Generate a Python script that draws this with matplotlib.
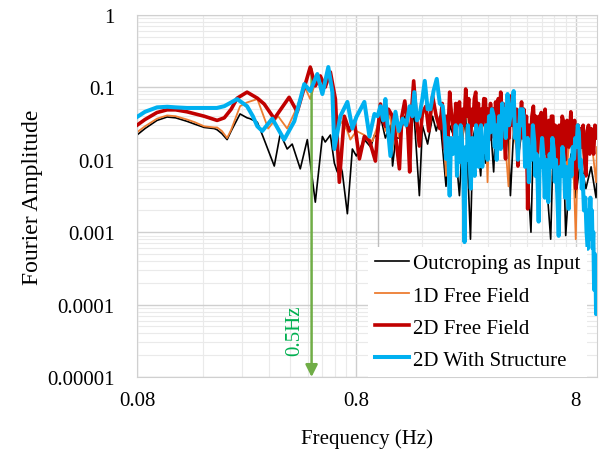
import matplotlib
matplotlib.use('Agg')
import matplotlib.pyplot as plt
from matplotlib.ticker import FixedLocator, FixedFormatter, LogLocator, NullFormatter

plt.rcParams['font.family'] = ['Liberation Serif', 'DejaVu Serif']

# (frequency Hz, Fourier amplitude)
# Outcroping as Input
black_pts = [(0.080, 0.022), (0.087, 0.027), (0.0987, 0.035), (0.1097, 0.039), (0.120, 0.038), (0.1353, 0.034),
             (0.147, 0.031), (0.162, 0.028), (0.180, 0.027), (0.1855, 0.026), (0.195, 0.023), (0.206, 0.019),
             (0.215, 0.025), (0.236, 0.043), (0.254, 0.038), (0.262, 0.037), (0.283, 0.033), (0.304, 0.019),
             (0.338, 0.0082), (0.360, 0.023), (0.387, 0.0141), (0.408, 0.0165), (0.444, 0.0075), (0.478, 0.019),
             (0.520, 0.0026), (0.560, 0.021), (0.577, 0.0176), (0.609, 0.022), (0.635, 0.009), (0.655, 0.0068),
             (0.672, 0.009), (0.690, 0.0068), (0.728, 0.0018), (0.767, 0.0141), (0.800, 0.0113), (0.870, 0.019),
             (0.930, 0.015), (0.967, 0.022),
             (1.00, 0.02), (1.03, 0.04), (1.085, 0.02), (1.144, 0.03), (1.17, 0.0082), (1.21, 0.02), (1.257, 0.02),
             (1.33, 0.04), (1.40, 0.015), (1.46, 0.05), (1.55, 0.0032), (1.60, 0.03), (1.69, 0.0165), (1.78, 0.04),
             (1.85, 0.025), (1.92, 0.04), (2.05, 0.0043), (2.13, 0.03), (2.24, 0.02), (2.36, 0.0032), (2.44, 0.02),
             (2.52, 0.04), (2.65, 0.0008), (2.72, 0.02), (2.80, 0.03), (2.95, 0.006), (3.02, 0.02), (3.10, 0.009),
             (3.27, 0.03), (3.38, 0.0068), (3.45, 0.03), (3.64, 0.04), (3.83, 0.012), (3.93, 0.03), (4.03, 0.0032),
             (4.2, 0.04), (4.36, 0.01), (4.58, 0.03), (4.83, 0.006), (5.0, 0.001), (5.13, 0.02), (5.37, 0.006),
             (5.65, 0.015), (5.96, 0.003), (6.15, 0.0008), (6.29, 0.01), (6.62, 0.004), (7.05, 0.01), (7.2, 0.0009),
             (7.6, 0.012), (8.0, 0.003), (8.4, 0.01), (8.9, 0.004), (9.4, 0.008), (9.9, 0.003), (10.0, 0.006)]

# 1D Free Field
orange_pts = [(0.080, 0.024), (0.087, 0.029), (0.0987, 0.037), (0.1097, 0.041), (0.120, 0.040), (0.1353, 0.036),
              (0.147, 0.033), (0.162, 0.029), (0.180, 0.028), (0.1855, 0.028), (0.195, 0.025), (0.206, 0.020),
              (0.215, 0.026), (0.236, 0.055), (0.254, 0.062), (0.283, 0.069), (0.317, 0.027), (0.352, 0.040),
              (0.387, 0.027), (0.43, 0.054), (0.463, 0.105), (0.493, 0.069), (0.531, 0.144), (0.560, 0.089),
              (0.596, 0.163), (0.622, 0.08), (0.655, 0.027), (0.690, 0.034), (0.728, 0.025), (0.751, 0.019),
              (0.80, 0.025), (0.87, 0.022), (0.947, 0.018),
              (1.00, 0.03), (1.03, 0.05), (1.085, 0.025), (1.144, 0.045), (1.17, 0.0141), (1.21, 0.03), (1.257, 0.02),
              (1.33, 0.055), (1.40, 0.02), (1.46, 0.08), (1.55, 0.02), (1.60, 0.04), (1.66, 0.05), (1.72, 0.025),
              (1.78, 0.06), (1.92, 0.03), (1.98, 0.04), (2.05, 0.006), (2.13, 0.07), (2.24, 0.03), (2.36, 0.05),
              (2.44, 0.02), (2.52, 0.07), (2.65, 0.02), (2.80, 0.06), (2.95, 0.02), (3.10, 0.05), (3.17, 0.0049),
              (3.22, 0.03), (3.36, 0.04), (3.45, 0.05), (3.55, 0.02), (3.64, 0.06), (3.83, 0.015), (3.95, 0.0043),
              (4.03, 0.05), (4.2, 0.02), (4.36, 0.012), (4.58, 0.04), (4.70, 0.015), (4.83, 0.004), (5.0, 0.02),
              (5.13, 0.04), (5.37, 0.01), (5.5, 0.025), (5.65, 0.02), (5.96, 0.004), (6.12, 0.02), (6.29, 0.03),
              (6.62, 0.005), (6.83, 0.02), (7.05, 0.02), (7.3, 0.008), (7.6, 0.03), (7.8, 0.01), (8.0, 0.0008),
              (8.2, 0.02), (8.4, 0.02), (8.9, 0.008), (9.15, 0.02), (9.4, 0.02), (9.65, 0.01), (9.9, 0.0049),
              (10.0, 0.015)]

# 2D Free Field
red_pts = [(0.080, 0.030), (0.087, 0.036), (0.0987, 0.045), (0.1097, 0.049), (0.120, 0.049), (0.1353, 0.046),
           (0.162, 0.040), (0.1855, 0.035), (0.200, 0.038), (0.215, 0.050), (0.229, 0.071), (0.254, 0.086),
           (0.283, 0.071), (0.304, 0.059), (0.338, 0.037), (0.370, 0.055), (0.395, 0.073), (0.43, 0.046),
           (0.463, 0.10), (0.493, 0.191), (0.52, 0.105), (0.548, 0.144), (0.577, 0.101), (0.609, 0.163),
           (0.642, 0.069), (0.669, 0.0049), (0.705, 0.040), (0.743, 0.025), (0.783, 0.034), (0.826, 0.0103),
           (0.87, 0.021), (0.92, 0.018), (0.977, 0.0096),
           (1.00, 0.024), (1.03, 0.059), (1.06, 0.035), (1.085, 0.029), (1.12, 0.05), (1.17, 0.040), (1.21, 0.02),
           (1.257, 0.0075), (1.29, 0.04), (1.33, 0.065), (1.37, 0.03), (1.40, 0.0068), (1.43, 0.05), (1.46, 0.123),
           (1.50, 0.04), (1.55, 0.0155), (1.60, 0.045), (1.66, 0.055), (1.71, 0.025), (1.78, 0.076), (1.85, 0.04),
           (1.92, 0.027), (1.97, 0.06), (2.02, 0.0141), (2.05, 0.04), (2.09, 0.02), (2.13, 0.086), (2.16, 0.05),
           (2.20, 0.03), (2.24, 0.021), (2.27, 0.06), (2.30, 0.03), (2.36, 0.063), (2.40, 0.02), (2.44, 0.05),
           (2.48, 0.03), (2.52, 0.095), (2.56, 0.04), (2.60, 0.07), (2.65, 0.019), (2.69, 0.05), (2.72, 0.03),
           (2.76, 0.07), (2.80, 0.086), (2.84, 0.03), (2.88, 0.06), (2.92, 0.015), (2.96, 0.05), (3.00, 0.03),
           (3.05, 0.07), (3.10, 0.069), (3.14, 0.02), (3.18, 0.05), (3.23, 0.019), (3.27, 0.06), (3.31, 0.03),
           (3.36, 0.05), (3.40, 0.02), (3.45, 0.063), (3.50, 0.03), (3.55, 0.07), (3.60, 0.035), (3.64, 0.086),
           (3.69, 0.03), (3.73, 0.06), (3.78, 0.02), (3.83, 0.0103), (3.88, 0.04), (3.93, 0.05), (3.98, 0.02),
           (4.03, 0.076), (4.10, 0.03), (4.16, 0.06), (4.23, 0.02), (4.30, 0.05), (4.36, 0.0082), (4.42, 0.04),
           (4.47, 0.03), (4.53, 0.063), (4.58, 0.02), (4.64, 0.05), (4.70, 0.02), (4.77, 0.04), (4.83, 0.0021),
           (4.90, 0.03), (4.98, 0.015), (5.05, 0.04), (5.13, 0.055), (5.20, 0.02), (5.25, 0.04), (5.31, 0.01),
           (5.37, 0.0141), (5.44, 0.04), (5.50, 0.02), (5.57, 0.045), (5.65, 0.027), (5.72, 0.012), (5.80, 0.05),
           (5.88, 0.02), (5.96, 0.0082), (6.04, 0.035), (6.12, 0.015), (6.20, 0.04), (6.29, 0.040), (6.37, 0.01),
           (6.45, 0.03), (6.53, 0.015), (6.62, 0.0036), (6.72, 0.03), (6.83, 0.015), (6.94, 0.04), (7.05, 0.033),
           (7.17, 0.01), (7.3, 0.035), (7.45, 0.015), (7.6, 0.046), (7.7, 0.02), (7.8, 0.015), (7.9, 0.035),
           (8.0, 0.004), (8.1, 0.025), (8.2, 0.03), (8.3, 0.012), (8.4, 0.027), (8.52, 0.015), (8.65, 0.03),
           (8.77, 0.01), (8.9, 0.006), (9.02, 0.025), (9.15, 0.03), (9.27, 0.012), (9.4, 0.027), (9.52, 0.02),
           (9.65, 0.012), (9.78, 0.03), (9.9, 0.029), (10.0, 0.02)]

# 2D With Structure
blue_pts = [(0.080, 0.039), (0.087, 0.046), (0.0987, 0.053), (0.110, 0.054), (0.120, 0.053), (0.1353, 0.052),
            (0.162, 0.052), (0.185, 0.052), (0.200, 0.055), (0.215, 0.062), (0.229, 0.069), (0.254, 0.055),
            (0.270, 0.040), (0.283, 0.029), (0.298, 0.025), (0.331, 0.037), (0.375, 0.019), (0.417, 0.034),
            (0.445, 0.07), (0.463, 0.111), (0.493, 0.089), (0.531, 0.153), (0.56, 0.081), (0.596, 0.191),
            (0.622, 0.086), (0.635, 0.0141), (0.676, 0.040), (0.728, 0.063), (0.767, 0.027), (0.80, 0.039),
            (0.87, 0.063), (0.918, 0.021), (0.967, 0.043),
            (1.00, 0.040), (1.03, 0.055), (1.06, 0.035), (1.085, 0.069), (1.11, 0.03), (1.144, 0.0113), (1.18, 0.03),
            (1.206, 0.046), (1.25, 0.025), (1.30, 0.037), (1.35, 0.03), (1.40, 0.055), (1.44, 0.04), (1.47, 0.086),
            (1.51, 0.035), (1.55, 0.040), (1.60, 0.07), (1.64, 0.123), (1.69, 0.05), (1.74, 0.050), (1.80, 0.09),
            (1.86, 0.131), (1.92, 0.06), (1.98, 0.055), (2.02, 0.03), (2.05, 0.0103), (2.09, 0.02), (2.13, 0.0032),
            (2.16, 0.02), (2.20, 0.012), (2.24, 0.0155), (2.27, 0.03), (2.30, 0.006), (2.33, 0.02), (2.36, 0.0093),
            (2.39, 0.03), (2.42, 0.02), (2.46, 0.006), (2.49, 0.00073), (2.52, 0.015), (2.55, 0.01), (2.58, 0.03),
            (2.62, 0.0141), (2.66, 0.004), (2.70, 0.02), (2.74, 0.008), (2.77, 0.006), (2.81, 0.03), (2.85, 0.025),
            (2.89, 0.008), (2.92, 0.019), (2.96, 0.03), (3.0, 0.008), (3.04, 0.02), (3.07, 0.0128), (3.12, 0.03),
            (3.17, 0.01), (3.22, 0.04), (3.27, 0.024), (3.32, 0.05), (3.38, 0.040), (3.42, 0.015), (3.45, 0.03),
            (3.49, 0.01), (3.52, 0.0176), (3.58, 0.04), (3.64, 0.0141), (3.70, 0.06), (3.74, 0.03), (3.78, 0.05),
            (3.84, 0.02), (3.91, 0.081), (3.97, 0.03), (4.03, 0.04), (4.10, 0.06), (4.17, 0.089), (4.23, 0.02),
            (4.3, 0.03), (4.36, 0.01), (4.41, 0.024), (4.47, 0.05), (4.52, 0.03), (4.58, 0.05), (4.63, 0.040),
            (4.70, 0.008), (4.76, 0.012), (4.83, 0.02), (4.89, 0.0049), (4.96, 0.015), (5.03, 0.01), (5.10, 0.03),
            (5.18, 0.0176), (5.24, 0.006), (5.3, 0.012), (5.36, 0.005), (5.42, 0.0014), (5.48, 0.01), (5.55, 0.008),
            (5.62, 0.02), (5.7, 0.0113), (5.78, 0.003), (5.85, 0.01), (5.92, 0.004), (6.0, 0.0026), (6.08, 0.012),
            (6.18, 0.008), (6.26, 0.02), (6.35, 0.0141), (6.42, 0.005), (6.5, 0.01), (6.6, 0.003), (6.69, 0.00089),
            (6.78, 0.008), (6.87, 0.006), (6.96, 0.015), (7.05, 0.0103), (7.15, 0.003), (7.25, 0.008), (7.34, 0.004),
            (7.43, 0.0021), (7.54, 0.01), (7.65, 0.006), (7.75, 0.015), (7.86, 0.0103), (7.96, 0.02), (8.06, 0.015),
            (8.17, 0.03), (8.27, 0.024), (8.36, 0.008), (8.45, 0.01), (8.52, 0.004), (8.6, 0.006), (8.72, 0.002),
            (8.85, 0.003), (8.96, 0.001), (9.08, 0.00059), (9.16, 0.002), (9.25, 0.001), (9.33, 0.003), (9.4, 0.0008),
            (9.48, 0.002), (9.55, 0.0006), (9.62, 0.001), (9.7, 0.00016), (9.78, 0.0005), (9.85, 0.0003),
            (9.9, 0.000074), (9.95, 0.0002), (10.0, 0.0003)]

series_labels = ['Outcroping as Input', '1D Free Field', '2D Free Field', '2D With Structure']

x_ticks = [0.08, 0.8, 8]
x_tick_labels = ['0.08', '0.8', '8']
y_ticks = [1e-5, 1e-4, 1e-3, 1e-2, 1e-1, 1]
y_tick_labels = ['0.00001', '0.0001', '0.001', '0.01', '0.1', '1']

fig = plt.figure(figsize=(6, 4.52), dpi=100)
ax = fig.add_axes([0.2283, 0.1637, 0.7667, 0.8009])

styles = [('black', 1.2, 2), ('#ED7D31', 1.3, 2.1), ('#C00000', 2.6, 3), ('#00B0F0', 2.9, 3.5)]
for pts, lab, (col, lw, z) in zip([black_pts, orange_pts, red_pts, blue_pts], series_labels, styles):
    f, a = zip(*pts)
    ax.plot(f, a, color=col, lw=lw, zorder=z, label=lab, solid_joinstyle='round')

# 0.5 Hz marker
ax.annotate('', xy=(0.5, 1e-5), xytext=(0.5, 0.18),
            arrowprops=dict(arrowstyle='-|>', color='#70AD47', lw=1.8, mutation_scale=18,
                            shrinkA=0, shrinkB=0), zorder=2.5)
ax.text(0.42, 4.5e-5, '0.5Hz', rotation=90, color='#00B050', fontsize=15, ha='center', va='center')

ax.set_xscale('log')
ax.set_yscale('log')
ax.set_xlim(0.08, 10)
ax.set_ylim(1e-5, 1)

ax.xaxis.set_major_locator(FixedLocator(x_ticks))
ax.xaxis.set_major_formatter(FixedFormatter(x_tick_labels))
ax.xaxis.set_minor_locator(FixedLocator([k * 0.08 for k in range(2, 10)] + [k * 0.8 for k in range(2, 10)]))
ax.xaxis.set_minor_formatter(NullFormatter())
ax.yaxis.set_major_locator(FixedLocator(y_ticks))
ax.yaxis.set_major_formatter(FixedFormatter(y_tick_labels))
ax.yaxis.set_minor_locator(LogLocator(base=10, subs=range(2, 10)))
ax.yaxis.set_minor_formatter(NullFormatter())

ax.grid(which='major', color='#CFCFCF', lw=1.0, zorder=0)
ax.grid(which='minor', color='#EAEAEA', lw=0.8, zorder=0)
ax.axvline(1.0, color='#BDBDBD', lw=1.0, zorder=1)
ax.set_axisbelow(True)
for s in ax.spines.values():
    s.set_color('#D0D0D0')

ax.tick_params(which='both', length=0, labelsize=15)
ax.tick_params(axis='y', pad=16)
ax.tick_params(axis='x', pad=10)

ax.set_xlabel('Frequency (Hz)', fontsize=15, labelpad=13)
ax.set_ylabel('Fourier Amplitude', fontsize=17, labelpad=3)

ax.legend(loc='lower left', bbox_to_anchor=(0.502, 0.0), frameon=True, facecolor='white',
          edgecolor='none', framealpha=1, fancybox=False, fontsize=15, handlelength=1.6,
          handletextpad=0.2, labelspacing=0.6, borderpad=0.35, borderaxespad=0)

fig.savefig('out.png', dpi=100)
